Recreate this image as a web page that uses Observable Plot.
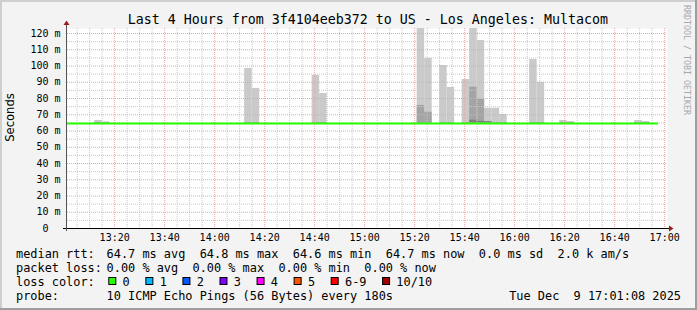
<!DOCTYPE html>
<html><head><meta charset="utf-8">
<script src="https://cdn.jsdelivr.net/npm/d3@7"></script>
<script src="https://cdn.jsdelivr.net/npm/@observablehq/plot@0.6"></script>
<style>
html,body{margin:0;padding:0;background:#f3f3f3;}
#wrap{position:relative;width:697px;height:310px;overflow:hidden;}
svg text{white-space:pre;}
</style></head><body><div id="wrap"></div>
<script>
// ---------- data ----------
const title = "Last 4 Hours from 3f4104eeb372 to US - Los Angeles: Multacom";
const yLabel = "Seconds";
const credit = "RRDTOOL / TOBI OETIKER";
const dateDay = "2025-12-09";
const startTime = "13:01:08";
const endTime = "17:01:08";
const yMax = 123.08;
const stepSeconds = 180;

// 3-minute smoke steps (start of step) and ping spread per step (ms)
const stepStart  = ["13:12","13:15","14:12","14:15","14:39","14:42","15:21","15:24","15:30","15:33","15:39","15:42","15:45","15:48","15:51","15:54","16:06","16:09","16:18","16:21","16:48","16:51"];
const pingLow    = [64.3,64.3,64.3,64.3,64.3,64.3,64.3,64.3,64.3,64.3,64.3,64.3,64.3,64.3,64.3,64.3,64.3,64.3,64.3,64.3,64.3,64.3];
const pingHigh   = [66.5,65.6,98.5,86.2,94.2,83.1,126,104.7,100.3,86.8,91.7,126,115.7,74.0,74.0,70.2,104.0,90.0,66.5,65.8,66.5,65.8];
const ping2High  = [65.0,65.0,65.0,65.0,65.0,65.0,75.7,71.5,65.0,65.0,65.0,87.0,79.4,65.0,65.0,65.0,65.0,65.0,65.0,65.0,65.0,65.0];
const ping3High  = [64.9,64.9,64.9,64.9,64.9,64.9,64.9,64.9,64.9,64.9,64.9,66.6,66.0,65.8,64.9,64.9,64.9,64.9,64.9,64.9,64.9,64.9];

// median rtt line
const medianTimes  = ["13:01:08","16:57:00"];
const medianValues = [64.6, 64.6];

// axes
const yTicks = [0,10,20,30,40,50,60,70,80,90,100,110,120];
const yTickLabels = ["0\u00a0\u00a0","10 m","20 m","30 m","40 m","50 m","60 m","70 m","80 m","90 m","100 m","110 m","120 m"];
const xTicks = ["13:20","13:40","14:00","14:20","14:40","15:00","15:20","15:40","16:00","16:20","16:40","17:00"];

// legend
const legendLabels = ["median rtt:","packet loss:","loss color:","probe:"];
const rttText  = "64.7 ms avg  64.8 ms max  64.6 ms min  64.7 ms now  0.0 ms sd  2.0 k am/s";
const lossText = "0.00 % avg  0.00 % max  0.00 % min  0.00 % now";
const lossColorLabels = ["0","1","2","3","4","5","6-9","10/10"];
const lossColors = ["#26ff00","#00b8ff","#0059ff","#7e00ff","#ff00ff","#ff5500","#ff0000","#a00000"];
const probeText = "10 ICMP Echo Pings (56 Bytes) every 180s";
const stampText = "Tue Dec  9 17:01:08 2025";

// ---------- build ----------
const T = s => new Date(`${dateDay}T${s.length === 5 ? s + ":00" : s}Z`);
const steps = stepStart.map((s, i) => ({
  x1: T(s), x2: new Date(T(s).getTime() + stepSeconds * 1000),
  lo: pingLow[i], hi: pingHigh[i], h2: ping2High[i], h3: ping3High[i]
}));
const median = medianTimes.map((t, i) => ({t: T(t), v: medianValues[i]}));
const x0 = T(startTime), x1 = T(endTime);

const minorX = d3.utcMinute.every(5).range(x0, x1).filter(d => d.getUTCMinutes() % 20 !== 0);
const majorX = xTicks.map(T).filter(d => d < x1);
const minorY = d3.range(5, yMax, 10);
const majorY = yTicks.filter(v => v > 0);

const mono = "DejaVu Sans Mono, monospace";

const chart = Plot.plot({
  width: 697, height: 310,
  marginLeft: 67, marginRight: 30, marginTop: 28, marginBottom: 82,
  x: {type: "utc", domain: [x0, x1], axis: null},
  y: {domain: [0, yMax], axis: null},
  style: {background: "transparent", overflow: "visible"},
  marks: [
    Plot.frame({fill: "#ffffff", stroke: null}),
    Plot.rect(steps, {x1: "x1", x2: "x2", y1: "lo", y2: "hi", fill: "#cacaca", clip: true}),
    Plot.rect(steps, {x1: "x1", x2: "x2", y1: "lo", y2: "h2", fill: "#a4a4a4", clip: true}),
    Plot.rect(steps, {x1: "x1", x2: "x2", y1: "lo", y2: "h3", fill: "#7e7e7e", clip: true}),
    Plot.ruleY(minorY, {stroke: "#c8c8c8", strokeDasharray: "1,1"}),
    Plot.ruleX(minorX, {stroke: "#c8c8c8", strokeDasharray: "1,1"}),
    Plot.ruleY(majorY, {stroke: "#f0a0a0", strokeDasharray: "1,1"}),
    Plot.ruleX(majorX, {stroke: "#f0a0a0", strokeDasharray: "1,1"}),
    Plot.line(median, {x: "t", y: "v", stroke: "#26ff00", strokeWidth: 2}),
    Plot.text(yTicks, {x: () => x0, y: d => d, text: (d, i) => yTickLabels[i], dx: -7, dy: 0, textAnchor: "end", fontFamily: mono, fontSize: 10, fill: "#000"}),
    Plot.text(xTicks, {x: d => T(d), y: () => 0, text: d => d, dy: 9.5, fontFamily: mono, fontSize: 10, fill: "#000"})
  ]
});
document.getElementById("wrap").appendChild(chart);

// ---------- decorations derived from the scales ----------
const svg = d3.select(chart);
const sx = chart.scale("x"), sy = chart.scale("y");
const L = sx.apply(x0), R = sx.apply(x1), B = sy.apply(0), Tp = sy.apply(yMax);

// outer shade borders
svg.insert("rect", ":first-child").attr("x", 0).attr("y", 0).attr("width", 697).attr("height", 310).attr("fill", "#f3f3f3");
svg.append("rect").attr("x", 0).attr("y", 0).attr("width", 697).attr("height", 2).attr("fill", "#cfcfcf");
svg.append("rect").attr("x", 0).attr("y", 0).attr("width", 2).attr("height", 310).attr("fill", "#cfcfcf");
svg.append("rect").attr("x", 695).attr("y", 0).attr("width", 2).attr("height", 310).attr("fill", "#9e9e9e");
svg.append("rect").attr("x", 0).attr("y", 308).attr("width", 697).attr("height", 2).attr("fill", "#9e9e9e");

// axes with arrows
svg.append("line").attr("x1", L - 4).attr("x2", R + 3).attr("y1", B + 0.5).attr("y2", B + 0.5).attr("stroke", "#000").attr("stroke-width", 1);
svg.append("line").attr("x1", L - 0.5).attr("x2", L - 0.5).attr("y1", B + 3).attr("y2", Tp - 4).attr("stroke", "#555").attr("stroke-width", 1);
svg.append("path").attr("d", `M${L - 3.5},${Tp - 3}L${L + 2.5},${Tp - 3}L${L - 0.5},${Tp - 7.5}Z`).attr("fill", "#9c1c1c");
svg.append("path").attr("d", `M${R + 2},${B - 2.5}L${R + 2},${B + 3.5}L${R + 6.5},${B + 0.5}Z`).attr("fill", "#9c1c1c");

const txt = (x, y, s, opts = {}) => svg.append("text")
  .attr("x", x).attr("y", y)
  .attr("text-anchor", opts.anchor || "start")
  .attr("font-family", opts.family || mono)
  .attr("font-size", opts.size || 11.9)
  .attr("fill", opts.fill || "#000")
  .attr("transform", opts.transform || null)
  .text(s);

// title
txt((L + R) / 2 + 0.8, 24, title, {anchor: "middle", size: 13.3});
// y label
txt(0, 0, yLabel, {anchor: "middle", family: "DejaVu Sans, sans-serif", size: 11.6, transform: "translate(14,117.5) rotate(-90)"});
// credit
txt(0, 0, credit, {anchor: "middle", size: 8.3, fill: "#a8a8a8", transform: "translate(683.5,60) rotate(90)"});

// legend
const fs = 11.9, cw = fs * 0.602;
const rowY = [258.3, 272.2, 286.1, 299.6];
const valX = 106.6;
legendLabels.forEach((lab, i) => txt(16, rowY[i], lab));
[rttText, lossText, null, probeText].forEach((t, i) => { if (t) txt(valX, rowY[i], t); });
let bx = 108.3;
lossColorLabels.forEach((lab, i) => {
  svg.append("rect").attr("x", bx + 0.5).attr("y", 277.5).attr("width", 7).attr("height", 7)
    .attr("fill", lossColors[i]).attr("stroke", "#000").attr("stroke-width", 1);
  txt(bx + 14.3, rowY[2], lab);
  bx += 29.9 + cw * lab.length;
});
txt(681, rowY[3], stampText, {anchor: "end"});
</script></body></html>
